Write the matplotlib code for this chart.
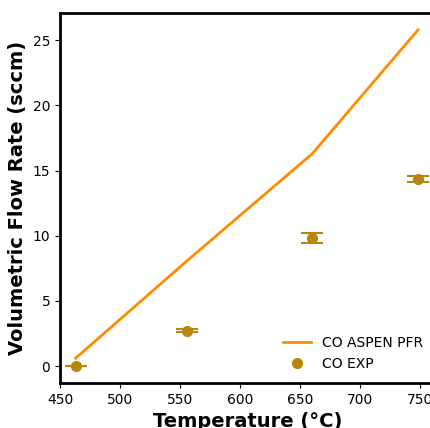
import matplotlib.pyplot as plt

# ASPEN PFR model
temp_model = [463, 556, 660, 748]
co_model = [0.6, 8.1, 16.3, 25.8]

# experiment
temp_exp = [463, 556, 660, 748]
co_exp = [0.0, 2.7, 9.85, 14.35]
co_err = [0.02, 0.12, 0.4, 0.25]

fig = plt.figure(figsize=(4.31, 4.28), dpi=100)
ax = fig.add_axes([60 / 431, (428 - 383) / 428, 376 / 431, 370 / 428])

ax.plot(temp_model, co_model, color='darkorange', lw=2, label='CO ASPEN PFR')
ax.errorbar(temp_exp, co_exp, yerr=co_err, fmt='none', ecolor='darkgoldenrod',
            capsize=8, elinewidth=1.5, capthick=1.5)
ax.plot(temp_exp, co_exp, 'o', color='darkgoldenrod', ms=7, label='CO EXP')

ax.set_xlim(450, 763)
ax.set_ylim(-1.3, 27.1)
ax.set_xticks([450, 500, 550, 600, 650, 700, 750])
ax.set_yticks([0, 5, 10, 15, 20, 25])
ax.tick_params(labelsize=10)
for s in ax.spines.values():
    s.set_linewidth(2)

ax.set_xlabel('Temperature (°C)', fontsize=14, fontweight='bold')
ax.set_ylabel('Volumetric Flow Rate (sccm)', fontsize=14, fontweight='bold')
ax.legend(loc='lower right', frameon=False, fontsize=10)

fig.savefig('out.png')
